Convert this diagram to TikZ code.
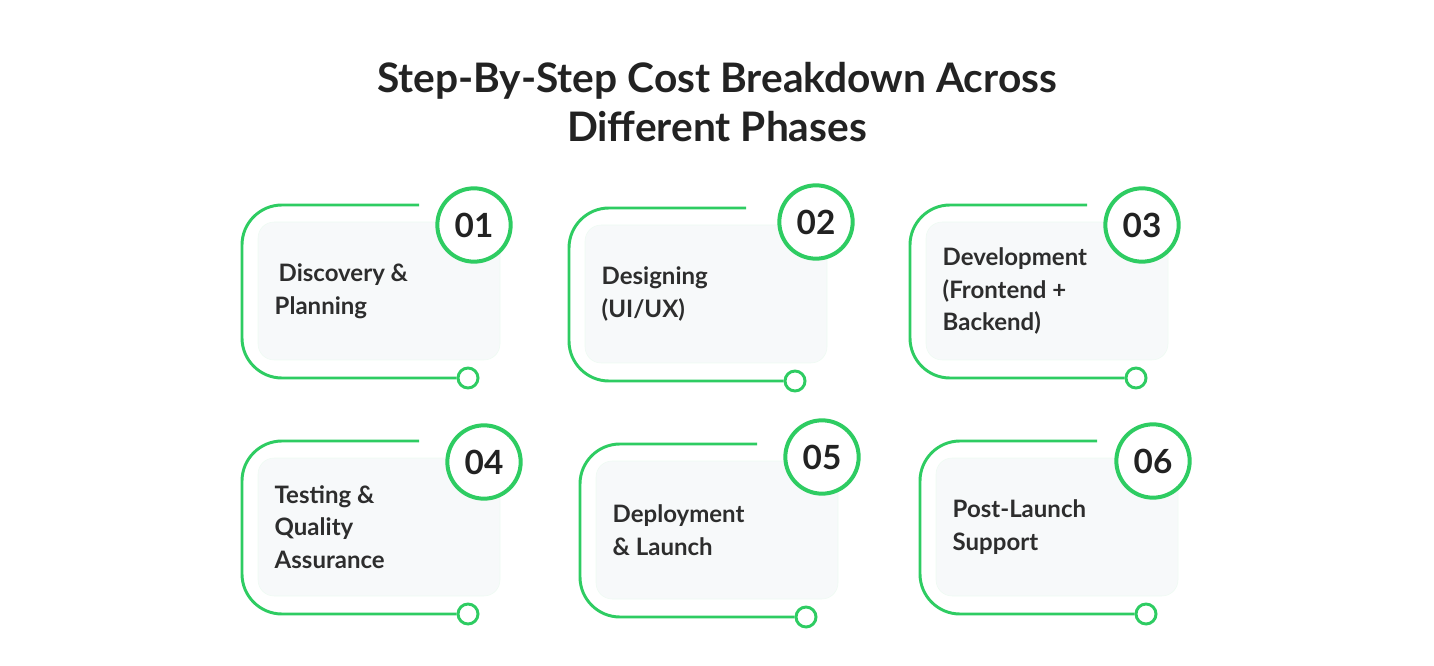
\documentclass[tikz,border=0pt]{standalone}
\usepackage{fontspec}
\setmainfont{Lato}
\usetikzlibrary{positioning}
\definecolor{cardgreen}{HTML}{2ECC62}
\definecolor{cardfill}{HTML}{F7F9FA}
\definecolor{ink}{HTML}{222222}

% one phase card: name, left, top, number x, number y, number, label
\newcommand{\phasecard}[7]{%
  \node[box] (#1-box) at (#2+137,#3+86) {};
  \node[endring] (#1-end) at (#2+226,#3+173) {};
  \draw[track] (#2+177,#3) -| (#2,#3+173) -- (#1-end.west);
  \node[numring] (#1-num) at (#4,#5) {#6};
  \node[label text, anchor=west] (#1-txt) at (#2+28,#3+86) {#7};
}

\begin{document}
\begin{tikzpicture}[
    x=0.75pt, y=-0.75pt,
    box/.style={draw=cardgreen!8, fill=cardfill, rounded corners=12pt, minimum width=181.5pt, minimum height=103.5pt},
    track/.style={draw=cardgreen, line width=2.2pt, rounded corners=30pt},
    endring/.style={circle, draw=cardgreen, fill=white, line width=2.2pt, minimum size=15pt, inner sep=0pt},
    numring/.style={circle, draw=cardgreen, fill=white, line width=3pt, minimum size=55pt, inner sep=0pt, font=\fontsize{25}{25}\selectfont\bfseries, text=ink},
    label text/.style={align=left, font=\fontsize{18}{24.5}\selectfont\bfseries, text=ink!95}
]
   \useasboundingbox (0,0) rectangle (1434,666);

   % Title
   \node[font=\fontsize{30.5}{37}\selectfont\bfseries, text=ink, align=center] (title) at (717,102)
     {Step-By-Step Cost Breakdown Across\\Different Phases};

   % Cards
   \phasecard{p1}{242}{205}{474}{225}{01}{\,Discovery \&\\Planning}
   \phasecard{p2}{569}{208}{816}{222}{02}{Designing\\(UI/UX)}
   \phasecard{p3}{910}{205}{1142}{225}{03}{Development\\(Frontend +\\Backend)}
   \phasecard{p4}{242}{441}{484}{462}{04}{Testing \&\\Quality\\Assurance}
   \phasecard{p5}{580}{444}{822}{457}{05}{Deployment\\\& Launch}
   \phasecard{p6}{920}{441}{1153}{461}{06}{Post-Launch\\Support}
\end{tikzpicture}
\end{document}
